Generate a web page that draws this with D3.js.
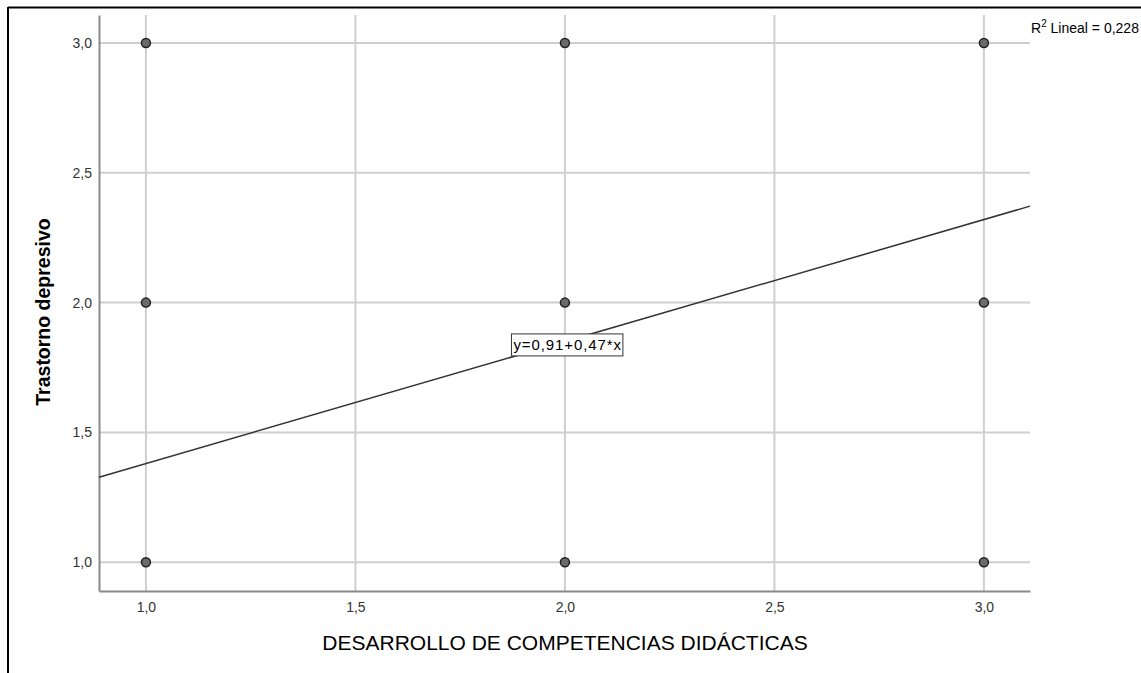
<!DOCTYPE html>
<html>
<head>
<meta charset="utf-8">
<script src="https://cdn.jsdelivr.net/npm/d3@7"></script>
<style>
  body { margin: 0; background: #fff; }
  text { font-family: Arial, "Liberation Sans", sans-serif; }
</style>
</head>
<body>
<svg id="chart"></svg>
<script>
// Datos
const xValues = [1, 1, 1, 2, 2, 2, 3, 3, 3];
const yValues = [3, 2, 1, 3, 2, 1, 3, 2, 1];
const tickValues = [1.0, 1.5, 2.0, 2.5, 3.0];
const fitIntercept = 0.91;
const fitSlope = 0.47;
const fitLabel = "y=0,91+0,47*x";
const r2Value = "0,228";
const xTitle = "DESARROLLO DE COMPETENCIAS DIDÁCTICAS";
const yTitle = "Trastorno depresivo";

const W = 1141, H = 673;
const margin = { top: 15, right: 111, bottom: 82, left: 99 },
      width = W - margin.left - margin.right,
      height = H - margin.top - margin.bottom;

const svg = d3.select("#chart").attr("width", W).attr("height", H);

// Marco exterior
svg.append("line").attr("x1", 8).attr("x2", W).attr("y1", 7.5).attr("y2", 7.5)
    .attr("stroke", "#000").attr("stroke-width", 2);
svg.append("line").attr("x1", 8).attr("x2", 8).attr("y1", 7).attr("y2", H)
    .attr("stroke", "#000").attr("stroke-width", 2);

const chart = svg.append("g").attr("transform", `translate(${margin.left},${margin.top})`);

const x = d3.scaleLinear().domain([0.888, 3.11]).range([0, width]);
const y = d3.scaleLinear().domain([0.889, 3.108]).range([height, 0]);

const fmt = d => d3.format(".1f")(d).replace(".", ",");

// Rejilla
chart.selectAll(".gx").data(tickValues).enter().append("line")
    .attr("x1", d => x(d)).attr("x2", d => x(d))
    .attr("y1", 0).attr("y2", height)
    .attr("stroke", "#cfcfcf").attr("stroke-width", 2);
chart.selectAll(".gy").data(tickValues).enter().append("line")
    .attr("x1", 0).attr("x2", width)
    .attr("y1", d => y(d)).attr("y2", d => y(d))
    .attr("stroke", "#cfcfcf").attr("stroke-width", 2);

// Ejes
const xAxis = chart.append("g")
    .attr("transform", `translate(0,${height})`)
    .call(d3.axisBottom(x).tickValues(tickValues).tickFormat(fmt).tickSize(0).tickPadding(11));
const yAxis = chart.append("g")
    .call(d3.axisLeft(y).tickValues(tickValues).tickFormat(fmt).tickSize(0).tickPadding(7));
[xAxis, yAxis].forEach(a => {
    a.attr("font-size", null).attr("font-family", null);
    a.select(".domain").attr("stroke", "#8a8a8a").attr("stroke-width", 2);
    a.selectAll("text").attr("fill", "#333").style("font-size", "14px");
});

// Recta de regresión
const xd = x.domain();
chart.append("line")
    .attr("x1", x(xd[0])).attr("y1", y(fitIntercept + fitSlope * xd[0]))
    .attr("x2", x(xd[1])).attr("y2", y(fitIntercept + fitSlope * xd[1]))
    .attr("stroke", "#333").attr("stroke-width", 1.5);

// Puntos
chart.selectAll(".pt").data(xValues).enter().append("circle")
    .attr("cx", d => x(d))
    .attr("cy", (d, i) => y(yValues[i]))
    .attr("r", 4.5)
    .attr("fill", "#6b6b6b")
    .attr("stroke", "#222").attr("stroke-width", 1.5);

// Etiqueta de la ecuación
const lbl = chart.append("g").attr("transform", `translate(${x(1.87)}, ${y(1.837)})`);
const lblText = lbl.append("text")
    .attr("x", 3).attr("y", 0).attr("dy", "0.35em")
    .style("font-size", "15px").style("letter-spacing", "0.9px").attr("fill", "#000")
    .text(fitLabel);
const bb = lblText.node().getBBox();
lbl.insert("rect", "text")
    .attr("x", bb.x - 2).attr("y", -11).attr("width", bb.width + 3).attr("height", 22)
    .attr("fill", "#fff").attr("stroke", "#333").attr("stroke-width", 1);

// R²
const r2 = svg.append("text").attr("x", 1031).attr("y", 33)
    .style("font-size", "14px").attr("fill", "#000");
r2.append("tspan").text("R");
r2.append("tspan").attr("dy", -6).style("font-size", "10px").text("2");
r2.append("tspan").attr("dy", 6).text(" Lineal = " + r2Value);

// Títulos de ejes
svg.append("text")
    .attr("x", 565).attr("y", 650)
    .attr("text-anchor", "middle")
    .style("font-size", "21px").attr("fill", "#000")
    .text(xTitle);
svg.append("text")
    .attr("transform", "rotate(-90)")
    .attr("x", -312).attr("y", 50)
    .attr("text-anchor", "middle")
    .style("font-size", "19.5px").style("font-weight", "bold").attr("fill", "#000")
    .text(yTitle);
</script>
</body>
</html>
